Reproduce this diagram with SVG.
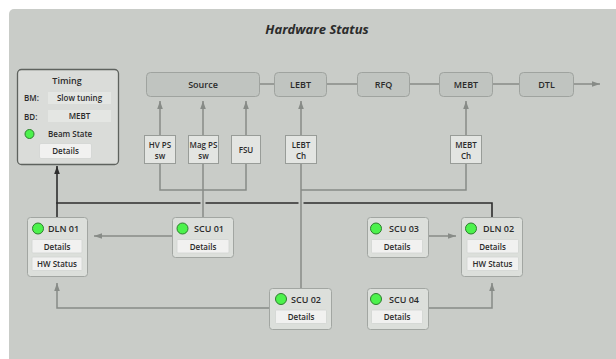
<svg xmlns="http://www.w3.org/2000/svg" width="616" height="359" viewBox="0 0 616 359">
<defs>
<style>
text{font-family:"Open Sans","Noto Sans","Liberation Sans",sans-serif;fill:#2b2b2b;font-weight:600}
.title{font-size:13px;font-weight:700;font-style:italic}
.stage{fill:#c0c4c0;stroke:#9fa39f;stroke-width:1}
.feed{fill:#e3e5e2;stroke:#989c98;stroke-width:1}
.node{fill:#dcdfdb;stroke:#a2a6a2;stroke-width:1}
.btn{fill:#f1f1f0;stroke:#d2d4d2;stroke-width:0.8}
.val{fill:#e4e6e3}
.led{fill:#4cf24c;stroke:#2e7d2e;stroke-width:1}
.c{stroke:#878b87;stroke-width:1.5;fill:none}
.d{stroke:#2d2d2d;stroke-width:1.6;fill:none}
.t9{font-size:9px}
.t8{font-size:8px}
</style>
<marker id="ag" viewBox="0 0 10 10" refX="10" refY="5" markerWidth="8" markerHeight="8" markerUnits="userSpaceOnUse" orient="auto">
<path d="M0,1.5 L10,5 L0,8.5 z" fill="#878b87"/>
</marker>
<marker id="ad" viewBox="0 0 10 10" refX="10" refY="5" markerWidth="8" markerHeight="8" markerUnits="userSpaceOnUse" orient="auto">
<path d="M0,1.5 L10,5 L0,8.5 z" fill="#2d2d2d"/>
</marker>
</defs>
<rect x="0" y="0" width="616" height="359" fill="#ffffff"/>
<rect x="9" y="9" width="620" height="360" rx="5" fill="#c9ccc8"/>
<text class="title" x="317" y="34" text-anchor="middle">Hardware Status</text>

<g id="connectors">
<line class="c" x1="260" y1="84" x2="274" y2="84"/>
<line class="c" x1="327" y1="84" x2="357" y2="84"/>
<line class="c" x1="410" y1="84" x2="439" y2="84"/>
<line class="c" x1="493" y1="84" x2="519" y2="84"/>
<line class="c" x1="574" y1="84" x2="600" y2="84" marker-end="url(#ag)"/>
<line class="c" x1="160" y1="135" x2="160" y2="101" marker-end="url(#ag)"/>
<line class="c" x1="203" y1="135" x2="203" y2="101" marker-end="url(#ag)"/>
<line class="c" x1="246" y1="135" x2="246" y2="101" marker-end="url(#ag)"/>
<line class="c" x1="301" y1="135" x2="301" y2="101" marker-end="url(#ag)"/>
<line class="c" x1="466" y1="135" x2="466" y2="101" marker-end="url(#ag)"/>
<polyline class="c" points="160,164 160,190 246,190 246,164"/>
<line class="c" x1="203" y1="164" x2="203" y2="217"/>
<line class="c" x1="301" y1="164" x2="301" y2="288"/>
<polyline class="c" points="466,164 466,190 301,190"/>
<line class="c" x1="172" y1="236" x2="94" y2="236" marker-end="url(#ag)"/>
<polyline class="c" points="269,308 57,308 57,283" marker-end="url(#ag)"/>
<line class="c" x1="429" y1="236" x2="456" y2="236" marker-end="url(#ag)"/>
<polyline class="c" points="429,308 492,308 492,283" marker-end="url(#ag)"/>
<line class="d" x1="57" y1="217" x2="57" y2="166" marker-end="url(#ad)"/>
<line class="d" x1="56.2" y1="203" x2="200.5" y2="203"/>
<line class="d" x1="205.5" y1="203" x2="298.5" y2="203"/>
<polyline class="d" points="303.5,203 492,203 492,217"/>
</g>

<g id="timing">
<rect x="17.5" y="69.5" width="101" height="95" rx="4" fill="#dadcd9" stroke="#5e625e" stroke-width="1.3"/>
<text class="t9" x="67" y="84" text-anchor="middle" font-weight="700">Timing</text>
<text class="t8" x="24" y="101">BM:</text>
<rect class="val" x="48" y="92" width="63" height="12"/>
<text class="t8" x="79.5" y="101" text-anchor="middle" font-weight="400">Slow tuning</text>
<text class="t8" x="24" y="120">BD:</text>
<rect class="val" x="48" y="110" width="63" height="12"/>
<text class="t8" x="79.5" y="119" text-anchor="middle" font-weight="400">MEBT</text>
<circle class="led" cx="29.5" cy="134" r="4.5"/>
<text class="t8" x="48" y="137">Beam State</text>
<rect class="btn" x="39.5" y="143.5" width="52" height="15" rx="1.5"/>
<text class="t8" x="65.5" y="154" text-anchor="middle">Details</text>
</g>

<g id="source"><rect class="stage" x="146.5" y="72.5" width="113" height="24" rx="4"/><text class="t9" x="203" y="88" text-anchor="middle">Source</text></g>
<g id="lebt"><rect class="stage" x="274.5" y="72.5" width="52" height="24" rx="4"/><text class="t9" x="300.5" y="88" text-anchor="middle">LEBT</text></g>
<g id="rfq"><rect class="stage" x="357.5" y="72.5" width="52" height="24" rx="4"/><text class="t9" x="383.5" y="88" text-anchor="middle">RFQ</text></g>
<g id="mebt"><rect class="stage" x="439.5" y="72.5" width="53" height="24" rx="4"/><text class="t9" x="466" y="88" text-anchor="middle">MEBT</text></g>
<g id="dtl"><rect class="stage" x="519.5" y="72.5" width="54" height="24" rx="4"/><text class="t9" x="546.5" y="88" text-anchor="middle">DTL</text></g>

<g id="hvps"><rect class="feed" x="144.5" y="135.5" width="31" height="28"/><text class="t8" x="160" y="148" text-anchor="middle">HV PS</text><text class="t8" x="160" y="159" text-anchor="middle">sw</text></g>
<g id="magps"><rect class="feed" x="188.5" y="135.5" width="30" height="28"/><text class="t8" x="203.5" y="148" text-anchor="middle">Mag PS</text><text class="t8" x="203.5" y="159" text-anchor="middle">sw</text></g>
<g id="fsu"><rect class="feed" x="231.5" y="135.5" width="29" height="28"/><text class="t8" x="246" y="153" text-anchor="middle">FSU</text></g>
<g id="lebtch"><rect class="feed" x="285.5" y="135.5" width="31" height="28"/><text class="t8" x="301" y="148" text-anchor="middle">LEBT</text><text class="t8" x="301" y="159" text-anchor="middle">Ch</text></g>
<g id="mebtch"><rect class="feed" x="450.5" y="135.5" width="31" height="28"/><text class="t8" x="466" y="148" text-anchor="middle">MEBT</text><text class="t8" x="466" y="159" text-anchor="middle">Ch</text></g>

<g id="dln01">
<rect class="node" x="27.5" y="217.5" width="60" height="59" rx="3"/>
<circle class="led" cx="38" cy="228.5" r="5.5"/>
<text class="t9" x="48" y="232">DLN 01</text>
<rect class="btn" x="32" y="239.5" width="50" height="13.5" rx="1"/>
<text class="t8" x="57" y="249.5" text-anchor="middle">Details</text>
<rect class="btn" x="32" y="257" width="50" height="13.5" rx="1"/>
<text class="t8" x="57" y="267" text-anchor="middle">HW Status</text>
</g>
<g id="scu01">
<rect class="node" x="172.5" y="217.5" width="61" height="40" rx="3"/>
<circle class="led" cx="182.5" cy="228.5" r="5.5"/>
<text class="t9" x="194" y="232">SCU 01</text>
<rect class="btn" x="177" y="239.5" width="52" height="13.5" rx="1"/>
<text class="t8" x="203" y="249.5" text-anchor="middle">Details</text>
</g>
<g id="scu02">
<rect class="node" x="269.5" y="288.5" width="62" height="41" rx="3"/>
<circle class="led" cx="281" cy="299" r="5.5"/>
<text class="t9" x="291" y="303">SCU 02</text>
<rect class="btn" x="275.5" y="310" width="51" height="13.5" rx="1"/>
<text class="t8" x="301" y="320" text-anchor="middle">Details</text>
</g>
<g id="scu03">
<rect class="node" x="367.5" y="217.5" width="61" height="40" rx="3"/>
<circle class="led" cx="376" cy="228.5" r="5.5"/>
<text class="t9" x="389" y="232">SCU 03</text>
<rect class="btn" x="371.5" y="239.5" width="51" height="13.5" rx="1"/>
<text class="t8" x="397" y="249.5" text-anchor="middle">Details</text>
</g>
<g id="dln02">
<rect class="node" x="461.5" y="217.5" width="61" height="59" rx="3"/>
<circle class="led" cx="471" cy="228.5" r="5.5"/>
<text class="t9" x="483" y="232">DLN 02</text>
<rect class="btn" x="467" y="239.5" width="51.5" height="13.5" rx="1"/>
<text class="t8" x="492.5" y="249.5" text-anchor="middle">Details</text>
<rect class="btn" x="467" y="257" width="51.5" height="13.5" rx="1"/>
<text class="t8" x="492.5" y="267" text-anchor="middle">HW Status</text>
</g>
<g id="scu04">
<rect class="node" x="367.5" y="288.5" width="61" height="41" rx="3"/>
<circle class="led" cx="376" cy="299" r="5.5"/>
<text class="t9" x="389" y="303">SCU 04</text>
<rect class="btn" x="371.5" y="310" width="51" height="13.5" rx="1"/>
<text class="t8" x="397" y="320" text-anchor="middle">Details</text>
</g>
</svg>
